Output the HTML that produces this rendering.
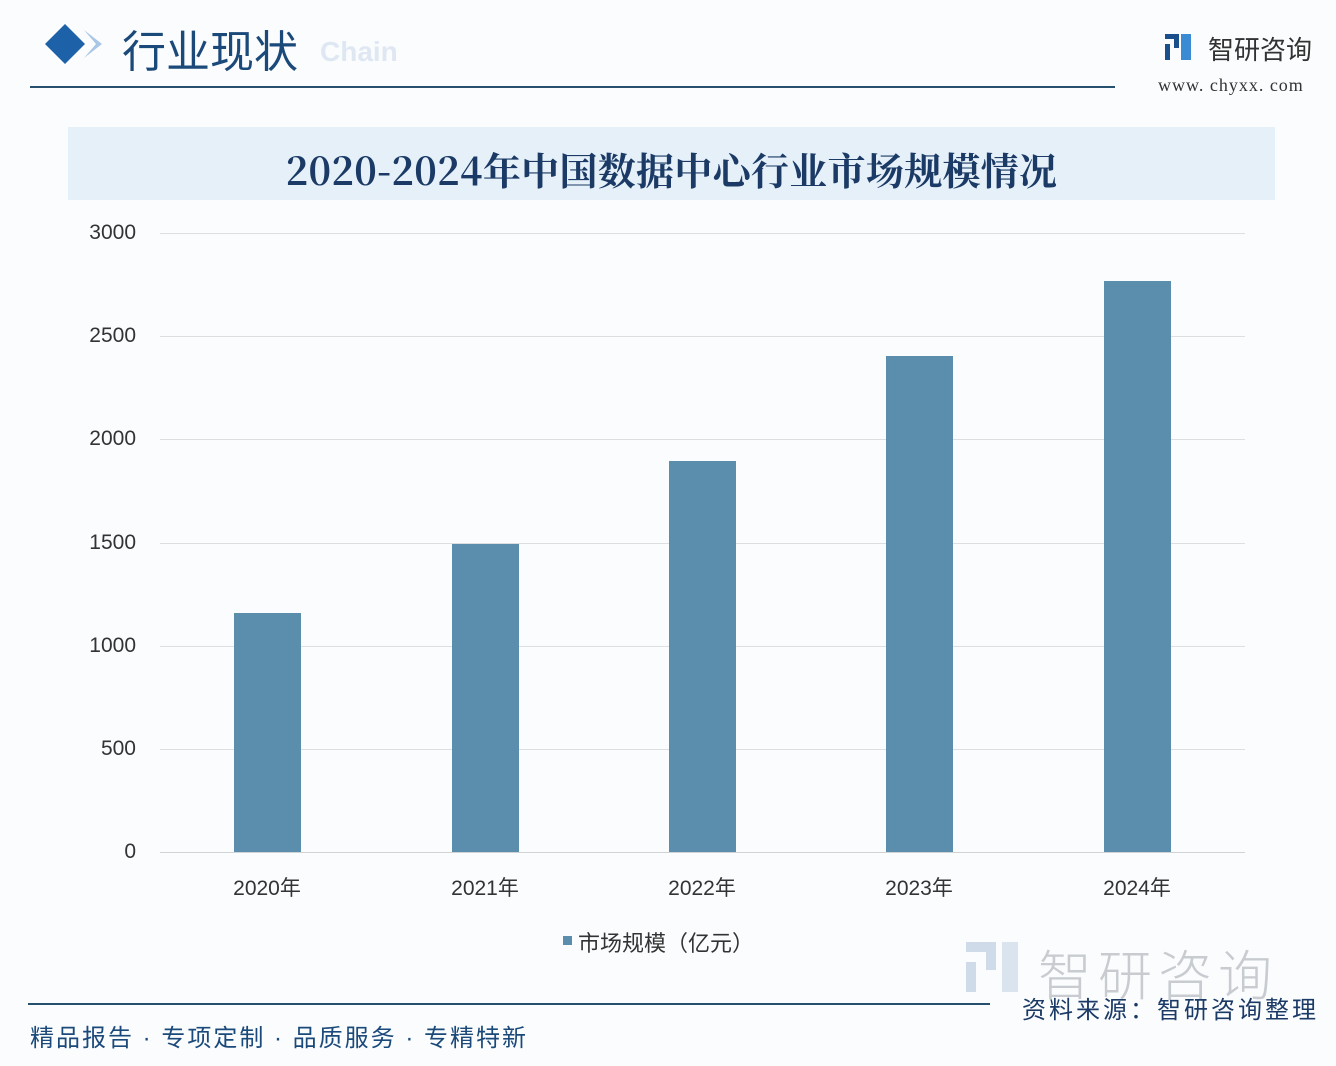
<!DOCTYPE html>
<html><head><meta charset="utf-8"><style>
*{margin:0;padding:0}
body{width:1336px;height:1066px;background:#fafcfe;position:relative;overflow:hidden;font-family:"Liberation Sans","Noto Sans CJK SC",sans-serif}
.a{position:absolute;white-space:nowrap}
.yl{position:absolute;right:1200px;font-size:21px;color:#333;line-height:22px}
.xl{position:absolute;width:120px;text-align:center;font-size:21px;color:#333;top:872px}
.bar{position:absolute;background:#5b8dac;width:67px}
.g{position:absolute;left:160px;width:1085px;height:1px;background:#dcdfe2}
</style></head><body>
<svg class="a" style="left:40px;top:22px" width="70" height="46"><polygon points="25,2 45,22 25,42 5,22" fill="#1d62a8"/><polygon points="44,8 62,22 44,36 56,22" fill="#a9c6e6"/></svg>
<div class="a" style="left:122px;top:16px;font-size:44px;color:#1b4a7a;font-family:'Noto Sans CJK SC',sans-serif">行业现状</div>
<div class="a" style="left:320px;top:36px;font-size:28px;color:#dfe8f2;font-weight:bold">Chain</div>
<div class="a" style="left:30px;top:86px;width:1085px;height:2px;background:#27506e"></div>
<svg class="a" style="left:1163px;top:32px" width="32" height="30"><rect x="2" y="2" width="14" height="5" fill="#1a4f8c"/><rect x="11" y="2" width="5" height="14" fill="#1a4f8c"/><rect x="2" y="12" width="5" height="16" fill="#1a4f8c"/><rect x="18" y="2" width="10" height="26" fill="#3a8ad4"/></svg>
<div class="a" style="left:1208px;top:30px;font-size:26px;color:#333">智研咨询</div>
<div class="a" style="left:1158px;top:75px;font-size:18px;color:#333;font-family:'Liberation Serif',serif;letter-spacing:1px">www. chyxx. com</div>
<div class="a" style="left:68px;top:127px;width:1207px;height:73px;background:#e6f0f9"></div>
<div class="a" style="left:68px;top:141px;width:1207px;text-align:center;font-size:38px;font-weight:bold;color:#1b3a66;font-family:'Noto Serif CJK SC',serif;letter-spacing:0.3px">2020-2024年中国数据中心行业市场规模情况</div>
<div class="g" style="top:233px"></div><div class="g" style="top:336px"></div><div class="g" style="top:439px"></div><div class="g" style="top:543px"></div><div class="g" style="top:646px"></div><div class="g" style="top:749px"></div><div class="g" style="top:852px;background:#cfd3d6"></div>
<div class="yl" style="top:222px">3000</div><div class="yl" style="top:325px">2500</div><div class="yl" style="top:428px">2000</div><div class="yl" style="top:532px">1500</div><div class="yl" style="top:635px">1000</div><div class="yl" style="top:738px">500</div><div class="yl" style="top:841px">0</div>
<div class="bar" style="left:234px;top:613px;height:239px"></div>
<div class="bar" style="left:452px;top:544px;height:308px"></div>
<div class="bar" style="left:669px;top:461px;height:391px"></div>
<div class="bar" style="left:886px;top:356px;height:496px"></div>
<div class="bar" style="left:1104px;top:281px;height:571px"></div>
<div class="xl" style="left:207px">2020年</div><div class="xl" style="left:425px">2021年</div><div class="xl" style="left:642px">2022年</div><div class="xl" style="left:859px">2023年</div><div class="xl" style="left:1077px">2024年</div>
<div class="a" style="left:563px;top:936px;width:9px;height:9px;background:#5b8dac"></div>
<div class="a" style="left:578px;top:926px;font-size:22px;color:#333">市场规模（亿元）</div>
<svg class="a" style="left:964px;top:940px" width="58" height="55"><rect x="2" y="2" width="30" height="10" fill="#cfdbe8"/><rect x="22" y="2" width="10" height="28" fill="#cfdbe8"/><rect x="2" y="22" width="10" height="30" fill="#cfdbe8"/><rect x="38" y="2" width="16" height="50" fill="#d9e4ee"/></svg>
<div class="a" style="left:1038px;top:932px;font-size:54px;color:#c8ccd0;letter-spacing:6px;font-weight:300">智研咨询</div>
<div class="a" style="left:28px;top:1003px;width:962px;height:2px;background:#27506e"></div>
<div class="a" style="left:1022px;top:990px;font-size:24px;color:#1b3a66;letter-spacing:3px">资料来源：智研咨询整理</div>
<div class="a" style="left:30px;top:1018px;font-size:24px;color:#1b4a7a;letter-spacing:2px">精品报告 · 专项定制 · 品质服务 · 专精特新</div>
</body></html>
